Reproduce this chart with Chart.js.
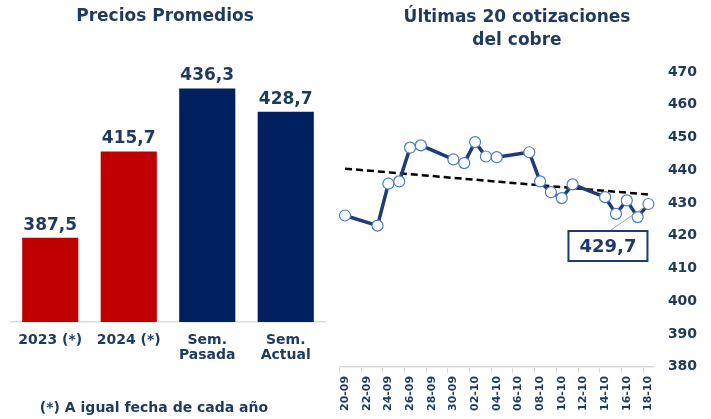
<!DOCTYPE html>
<html>
<head>
    <title>Precios del cobre</title>
    <script src="https://cdn.jsdelivr.net/npm/chart.js"></script>
    <style>
        body { margin: 0; background: #fff; }
        .panel { position: absolute; top: 0; }
    </style>
</head>
<body>
    <canvas id="barChart" class="panel" width="330" height="419" style="left:0"></canvas>
    <canvas id="lineChart" class="panel" width="381" height="419" style="left:330px"></canvas>

    <script>
        // Precios promedios (barras)
        const categorias = ["2023 (*)", "2024 (*)", ["Sem.", "Pasada"], ["Sem.", "Actual"]];
        const promedios = [387.5, 415.7, 436.3, 428.7];
        const coloresBarras = ["#C00000", "#C00000", "#002060", "#002060"];

        // Ultimas cotizaciones (linea)
        const diasEje = ["20-09", "21-09", "22-09", "23-09", "24-09", "25-09", "26-09", "27-09", "28-09", "29-09",
                         "30-09", "01-10", "02-10", "03-10", "04-10", "05-10", "06-10", "07-10", "08-10", "09-10",
                         "10-10", "11-10", "12-10", "13-10", "14-10", "15-10", "16-10", "17-10", "18-10"];
        const fechas = ["20-09", "23-09", "24-09", "25-09", "26-09", "27-09", "30-09", "01-10", "02-10", "03-10",
                        "04-10", "07-10", "08-10", "09-10", "10-10", "11-10", "14-10", "15-10", "16-10", "17-10", "18-10"];
        const precios = [426.2, 423.1, 435.9, 436.6, 446.9, 447.6, 443.3, 442.2, 448.6, 444.2,
                         444.0, 445.5, 436.6, 433.3, 431.5, 435.7, 431.8, 426.7, 430.8, 425.7, 429.7];
        const tendenciaFechas = ["20-09", "18-10"];
        const tendencia = [440.5, 432.6];

        const tituloBarras = "Precios Promedios";
        const tituloLinea = ["Últimas 20 cotizaciones", "del cobre"];
        const nota = "(*) A igual fecha de cada año";

        const azulTexto = "#1F3A5F";
        const fuente = "'DejaVu Sans', Verdana, sans-serif";

        function formatoComa(v) {
            return v.toFixed(1).replace(".", ",");
        }

        const barTextPlugin = {
            id: "barText",
            afterDraw(chart) {
                const ctx = chart.ctx;
                ctx.save();
                ctx.fillStyle = azulTexto;
                ctx.textAlign = "center";

                ctx.font = "bold 17px " + fuente;
                ctx.textBaseline = "middle";
                ctx.fillText(tituloBarras, 165, 17);

                ctx.textBaseline = "alphabetic";
                chart.getDatasetMeta(0).data.forEach((bar, i) => {
                    ctx.fillText(formatoComa(promedios[i]), bar.x, bar.y - 8);
                });

                ctx.font = "bold 14px " + fuente;
                ctx.textBaseline = "middle";
                ctx.fillText(nota, 154, 408);
                ctx.restore();
            }
        };

        const lineTextPlugin = {
            id: "lineText",
            afterDraw(chart) {
                const ctx = chart.ctx;
                ctx.save();
                ctx.fillStyle = azulTexto;
                ctx.textAlign = "center";
                ctx.textBaseline = "middle";
                ctx.font = "bold 17px " + fuente;
                ctx.fillText(tituloLinea[0], 187, 18);
                ctx.fillText(tituloLinea[1], 187, 41);

                // recuadro con el ultimo valor
                const pts = chart.getDatasetMeta(0).data;
                const p = pts[pts.length - 1];
                ctx.strokeStyle = "#A6A6A6";
                ctx.lineWidth = 1;
                ctx.beginPath();
                ctx.moveTo(p.x - 39, p.y + 27);
                ctx.lineTo(p.x - 4, p.y + 3);
                ctx.stroke();

                ctx.fillStyle = "#fff";
                ctx.fillRect(p.x - 80, p.y + 27, 79, 30);
                ctx.strokeStyle = "#1F3A6F";
                ctx.lineWidth = 2;
                ctx.strokeRect(p.x - 80, p.y + 27, 79, 30);
                ctx.fillStyle = "#1F3A6F";
                ctx.font = "bold 18px " + fuente;
                ctx.fillText(formatoComa(precios[precios.length - 1]), p.x - 40.5, p.y + 43);
                ctx.restore();
            }
        };

        new Chart(document.getElementById("barChart"), {
            type: "bar",
            data: {
                labels: categorias,
                datasets: [{
                    data: promedios,
                    backgroundColor: coloresBarras,
                    barPercentage: 0.715,
                    categoryPercentage: 1
                }]
            },
            options: {
                responsive: false,
                animation: false,
                layout: { padding: { left: 11, right: 5, top: 46.5, bottom: 53.1 } },
                plugins: { legend: { display: false }, tooltip: { enabled: false } },
                scales: {
                    x: {
                        grid: { display: false },
                        border: { display: true, color: "#D9D9D9", width: 1.5 },
                        ticks: {
                            color: azulTexto,
                            padding: 2.6,
                            font: { family: fuente, weight: "bold", size: 14, lineHeight: 1.1 }
                        }
                    },
                    y: { display: false, min: 360, max: 450 }
                }
            },
            plugins: [barTextPlugin]
        });

        new Chart(document.getElementById("lineChart"), {
            type: "line",
            data: {
                labels: diasEje,
                datasets: [{
                    data: fechas.map((f, i) => ({ x: f, y: precios[i] })),
                    borderColor: "#203C74",
                    borderWidth: 3.5,
                    pointRadius: 5.5,
                    pointBackgroundColor: "#fff",
                    pointBorderColor: "#4A7CC8",
                    pointBorderWidth: 1.2,
                    tension: 0,
                    order: 1
                }, {
                    data: tendenciaFechas.map((f, i) => ({ x: f, y: tendencia[i] })),
                    borderColor: "#000",
                    borderWidth: 2.5,
                    borderDash: [7, 4],
                    pointRadius: 0,
                    order: 2
                }]
            },
            options: {
                responsive: false,
                animation: false,
                layout: { padding: { left: 9.6, right: 7.9, top: 72, bottom: 5 } },
                plugins: { legend: { display: false }, tooltip: { enabled: false } },
                scales: {
                    x: {
                        offset: true,
                        grid: {
                            drawOnChartArea: false,
                            offset: true,
                            tickLength: 6,
                            color: ctx => ctx.index % 2 === 0 ? "#D9D9D9" : "rgba(0,0,0,0)"
                        },
                        border: { display: true, color: "#D9D9D9", width: 1.5 },
                        ticks: {
                            autoSkip: false,
                            minRotation: 90,
                            maxRotation: 90,
                            padding: 3,
                            color: azulTexto,
                            font: { family: fuente, weight: "bold", size: 11 },
                            callback: function (v, i) { return i % 2 === 0 ? diasEje[i] : ""; }
                        }
                    },
                    y: {
                        position: "right",
                        min: 380,
                        max: 470,
                        grid: { display: false },
                        border: { display: false },
                        ticks: {
                            stepSize: 10,
                            padding: 6,
                            color: azulTexto,
                            font: { family: fuente, weight: "bold", size: 14 }
                        }
                    }
                }
            },
            plugins: [lineTextPlugin]
        });
    </script>
</body>
</html>
